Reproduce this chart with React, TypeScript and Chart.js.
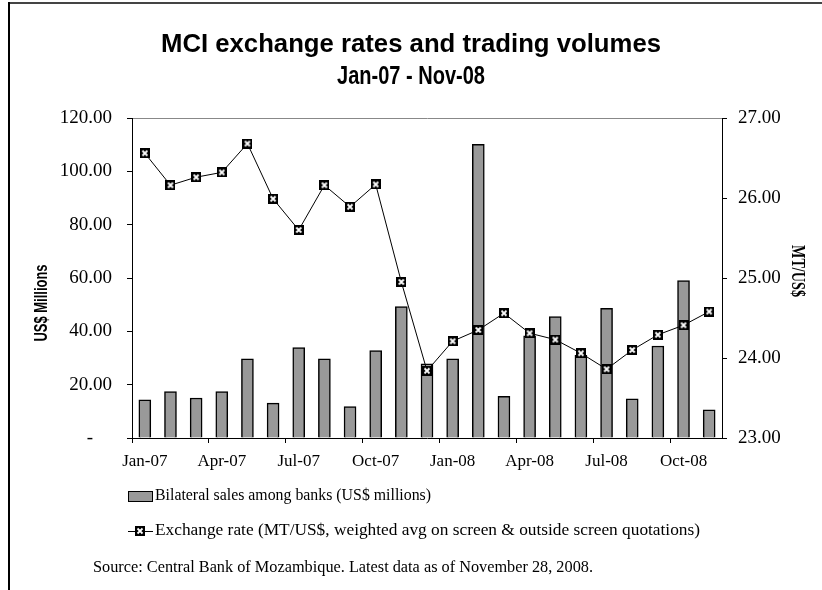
import React, { useEffect, useRef } from 'react';
import { Chart, registerables } from 'chart.js';

Chart.register(...registerables);

const months = [
  'Jan-07', 'Feb-07', 'Mar-07', 'Apr-07', 'May-07', 'Jun-07', 'Jul-07', 'Aug-07', 'Sep-07', 'Oct-07', 'Nov-07', 'Dec-07',
  'Jan-08', 'Feb-08', 'Mar-08', 'Apr-08', 'May-08', 'Jun-08', 'Jul-08', 'Aug-08', 'Sep-08', 'Oct-08', 'Nov-08',
];
const xTickLabels = ['Jan-07', 'Apr-07', 'Jul-07', 'Oct-07', 'Jan-08', 'Apr-08', 'Jul-08', 'Oct-08'];

const salesValues = [
  14.3, 17.4, 15.0, 17.4, 29.7, 13.1, 33.9, 29.7, 11.8, 32.8, 49.3, 27.8,
  29.7, 110.1, 15.6, 38.3, 45.5, 31.0, 48.6, 14.7, 34.5, 59.0, 10.6,
];
const rateValues = [
  26.56, 26.16, 26.26, 26.32, 26.68, 25.99, 25.6, 26.16, 25.89, 26.17, 24.95, 23.84,
  24.21, 24.35, 24.56, 24.31, 24.23, 24.06, 23.86, 24.1, 24.29, 24.41, 24.58,
];

const titleLines = ['MCI exchange rates and trading volumes', 'Jan-07 - Nov-08'];
const salesLabel = 'Bilateral sales among banks (US$ millions)';
const rateLabel = 'Exchange rate (MT/US$, weighted avg on screen & outside screen quotations)';
const leftAxisTitle = 'US$ Millions';
const rightAxisTitle = 'MT/US$';
const sourceText = 'Source: Central Bank of Mozambique. Latest data as of November 28, 2008.';

const SERIF = '"Liberation Serif", "Times New Roman", serif';
const SANS = '"Liberation Sans", Arial, sans-serif';

function makeMarker(): HTMLCanvasElement {
  const c = document.createElement('canvas');
  c.width = 10;
  c.height = 10;
  const g = c.getContext('2d')!;
  g.fillStyle = '#000';
  g.fillRect(0, 0, 10, 10);
  g.strokeStyle = '#fff';
  g.lineWidth = 1.8;
  g.beginPath();
  g.moveTo(2.5, 2.5);
  g.lineTo(7.5, 7.5);
  g.moveTo(7.5, 2.5);
  g.lineTo(2.5, 7.5);
  g.stroke();
  return c;
}

function fitText(ctx: CanvasRenderingContext2D, text: string, x: number, y: number, width: number, rot = 0) {
  const w = ctx.measureText(text).width;
  ctx.save();
  ctx.translate(x, y);
  if (rot) ctx.rotate(rot);
  ctx.scale(width / w, 1);
  ctx.fillText(text, 0, 0);
  ctx.restore();
}

export default function App() {
  const ref = useRef<HTMLCanvasElement | null>(null);

  useEffect(() => {
    if (!ref.current) return;
    const marker = makeMarker();

    const decor = {
      id: 'decor',
      beforeDraw(chart: any) {
        const ctx = chart.ctx;
        ctx.save();
        ctx.fillStyle = '#fff';
        ctx.fillRect(0, 0, chart.width, chart.height);
        ctx.restore();
      },
      afterDraw(chart: any) {
        const ctx = chart.ctx;
        ctx.save();
        // frame
        ctx.strokeStyle = '#444';
        ctx.lineWidth = 2;
        ctx.beginPath();
        ctx.moveTo(8, 3);
        ctx.lineTo(822, 3);
        ctx.stroke();
        ctx.strokeStyle = '#000';
        ctx.beginPath();
        ctx.moveTo(9, 2);
        ctx.lineTo(9, 590);
        ctx.stroke();

        // title
        ctx.fillStyle = '#000';
        ctx.textAlign = 'center';
        ctx.textBaseline = 'middle';
        ctx.font = `bold 25px ${SANS}`;
        fitText(ctx, titleLines[0], 411, 45, 500);
        fitText(ctx, titleLines[1], 411, 77, 148);

        // axis titles
        ctx.font = `bold 18px ${SANS}`;
        fitText(ctx, leftAxisTitle, 42, 303, 77, -Math.PI / 2);
        ctx.font = `bold 19px ${SERIF}`;
        fitText(ctx, rightAxisTitle, 797, 271, 52, Math.PI / 2);

        // legend
        ctx.textAlign = 'left';
        ctx.font = `16px ${SERIF}`;
        ctx.fillStyle = '#999999';
        ctx.fillRect(128, 491, 24, 10);
        ctx.strokeStyle = '#000';
        ctx.lineWidth = 1;
        ctx.strokeRect(128.5, 491.5, 24, 10);
        ctx.fillStyle = '#000';
        fitText(ctx, salesLabel, 155, 496, 276);

        ctx.beginPath();
        ctx.moveTo(128, 531.5);
        ctx.lineTo(153, 531.5);
        ctx.stroke();
        ctx.drawImage(marker, 135, 526);
        fitText(ctx, rateLabel, 155, 531, 545);

        ctx.font = `16px ${SERIF}`;
        fitText(ctx, sourceText, 93, 568, 500);
        ctx.restore();
      },
    };

    const chart = new Chart(ref.current, {
      data: {
        labels: months,
        datasets: [
          {
            type: 'bar',
            label: salesLabel,
            data: salesValues,
            yAxisID: 'y',
            backgroundColor: '#999999',
            borderColor: '#000',
            borderWidth: 1.5,
            barThickness: 12,
            order: 1,
          },
          {
            type: 'line',
            label: rateLabel,
            data: rateValues,
            yAxisID: 'y1',
            borderColor: '#000',
            borderWidth: 1,
            pointStyle: marker,
            pointRadius: 5,
            tension: 0,
            order: 0,
          },
        ],
      } as any,
      options: {
        responsive: false,
        animation: false,
        devicePixelRatio: 1,
        layout: { padding: { top: 118, left: 0, right: 0, bottom: 0 } },
        plugins: {
          legend: { display: false },
          tooltip: { enabled: false },
          title: { display: false },
        },
        scales: {
          x: {
            type: 'category',
            offset: true,
            grid: {
              offset: true,
              drawOnChartArea: false,
              tickLength: 5,
              tickColor: (ctx: any) => (ctx.index % 3 === 0 ? '#000' : 'rgba(0,0,0,0)'),
            },
            border: { display: true, color: '#000', width: 1 },
            ticks: {
              autoSkip: false,
              maxRotation: 0,
              minRotation: 0,
              padding: 8,
              color: '#000',
              font: { family: SERIF, size: 17 },
              callback: (_v: any, i: number) => (xTickLabels.includes(months[i]) ? months[i] : ''),
            },
            afterFit: (s: any) => {
              s.height = 152;
            },
          },
          y: {
            position: 'left',
            min: 0,
            max: 120,
            ticks: {
              stepSize: 20,
              padding: 15,
              color: '#000',
              font: { family: SERIF, size: 19 },
              callback: (v: any) => (Number(v) === 0 ? '-    ' : Number(v).toFixed(2)),
            },
            grid: {
              drawOnChartArea: true,
              color: (ctx: any) => (ctx.tick && ctx.tick.value === 120 ? '#888' : 'rgba(0,0,0,0)'),
              tickColor: '#000',
              tickLength: 5,
            },
            border: { display: true, color: '#000', width: 1 },
            afterFit: (s: any) => {
              s.width = 132;
            },
          },
          y1: {
            position: 'right',
            min: 23,
            max: 27,
            ticks: {
              stepSize: 1,
              padding: 11,
              color: '#000',
              font: { family: SERIF, size: 19 },
              callback: (v: any) => Number(v).toFixed(2),
            },
            grid: {
              drawOnChartArea: false,
              tickColor: '#000',
              tickLength: 5,
            },
            border: { display: true, color: '#000', width: 1 },
            afterFit: (s: any) => {
              s.width = 100;
            },
          },
        },
      } as any,
      plugins: [decor],
    });

    return () => {
      chart.destroy();
    };
  }, []);

  return (
    <div style={{ position: 'fixed', left: 0, top: 0, width: 822, height: 590, background: '#fff' }}>
      <canvas ref={ref} width={822} height={590} style={{ display: 'block', width: 822, height: 590 }} />
    </div>
  );
}
